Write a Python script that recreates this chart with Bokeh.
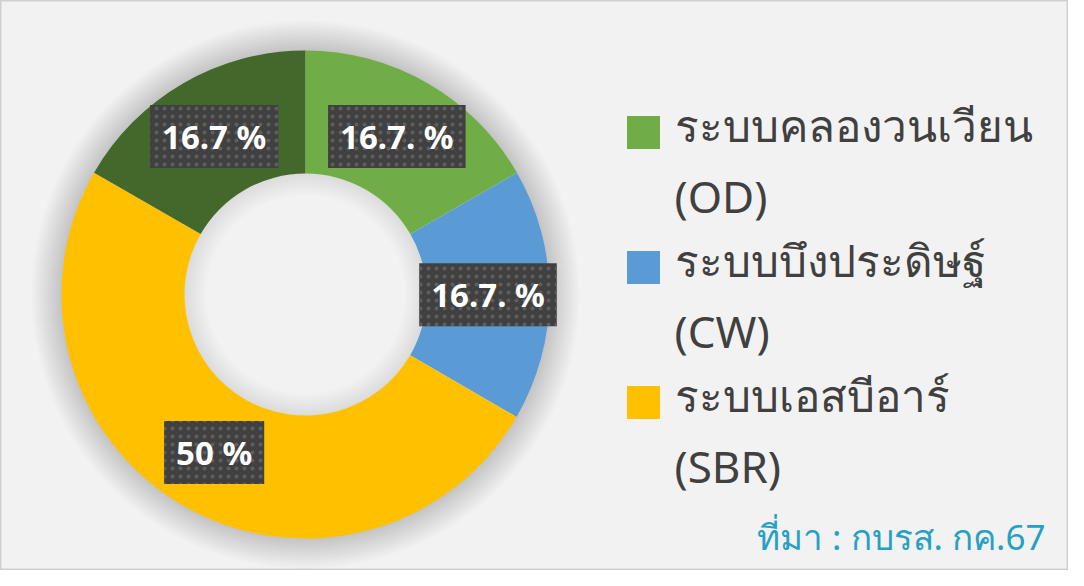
import math
from bokeh.plotting import figure
from bokeh.models import Range1d, Label
from bokeh.core.properties import value
from bokeh.embed import file_html
from bokeh.resources import INLINE

# ---- data ----
categories = ["ระบบคลองวนเวียน (OD)", "ระบบบึงประดิษฐ์ (CW)", "ระบบเอสบีอาร์ (SBR)", "อื่น ๆ"]
shares = [16.7, 16.7, 50.0, 16.7]
label_texts = ["16.7. %", "16.7. %", "50 %", "16.7 %"]
legend_line1 = ["ระบบคลองวนเวียน", "ระบบบึงประดิษฐ์", "ระบบเอสบีอาร์"]
legend_line2 = ["(OD)", "(CW)", "(SBR)"]
source_text = "ที่มา : กบรส. กค.67"

# ---- style / layout ----
colors = ["#70AD47", "#5B9BD5", "#FFC000", "#43682B"]
W, H = 1068, 570
p = figure(width=W, height=H, output_backend="svg", toolbar_location=None,
           x_range=Range1d(8, 8 + W), y_range=Range1d(586 - 8 - H, 586 - 8),
           min_border=0, match_aspect=False)
p.axis.visible = False
p.grid.visible = False
p.background_fill_color = "#F2F2F2"
p.border_fill_color = "#F2F2F2"
p.outline_line_color = "#CFCFCF"
p.outline_line_width = 2

cx, cy = 313, 586 - 302
r_out, r_in = 244, 121

# soft outer shadow
for k in range(1, 16):
    p.annulus(x=cx, y=cy, inner_radius=r_out - 1, outer_radius=r_out + 2 * k,
              fill_color="black", fill_alpha=0.011, line_color=None)
# inner shadow in hole
for k in range(1, 12):
    p.annulus(x=cx, y=cy, inner_radius=r_in - 2 * k, outer_radius=r_in + 1,
              fill_color="black", fill_alpha=0.007, line_color=None)

total = sum(shares)
starts, ends, mids = [], [], []
acc = 0.0
for s in shares:
    a0 = math.pi / 2 - 2 * math.pi * acc / total
    acc += s
    a1 = math.pi / 2 - 2 * math.pi * acc / total
    starts.append(a0)
    ends.append(a1)
    mids.append((a0 + a1) / 2)

p.annular_wedge(x=[cx] * 4, y=[cy] * 4, inner_radius=r_in, outer_radius=r_out,
                start_angle=starts, end_angle=ends, direction="clock",
                fill_color=colors, line_color=None)

# data labels at the middle of each ring segment
r_lab = (r_in + r_out) / 2
pad = dict(left=12, right=12, top=9, bottom=9)
for txt, m in zip(label_texts, mids):
    lx = cx + r_lab * math.cos(m)
    ly = cy + r_lab * math.sin(m)
    for k, al in ((6, 0.06), (4, 0.10), (2, 0.12)):
        shadow = Label(x=lx, y=ly, x_offset=k, y_offset=-k, text=txt,
                       text_font="Noto Sans", text_font_size="33px",
                       text_font_style="bold", text_align="center", text_baseline="middle",
                       text_alpha=0.0, background_fill_color="black",
                       background_fill_alpha=al, padding=pad)
        p.add_layout(shadow)
    lab = Label(x=lx, y=ly, text=txt, text_font="Noto Sans",
                text_font_size="33px", text_font_style="bold", text_color="white",
                text_align="center", text_baseline="middle",
                background_fill_color="#404040", background_fill_alpha=1.0,
                background_hatch_pattern="dot", background_hatch_color="#5E5E5E",
                background_hatch_scale=8, padding=pad)
    p.add_layout(lab)

# legend (manual, first three categories)
fs = 44
shift = 0.45 * fs
leg_x = 651
for i, (l1, l2) in enumerate(zip(legend_line1, legend_line2)):
    sy = 586 - (140 + 135 * i)
    p.rect(x=leg_x, y=sy, width=33, height=33, fill_color=colors[i], line_color=None)
    p.text(x=[682], y=[586 - (152 + 135 * i) + shift], text=[l1], text_font=value("Noto Sans"),
           text_font_size=f"{fs}px", text_color="#404040", text_baseline="alphabetic")
    p.text(x=[682], y=[586 - (223 + 135 * i) + shift], text=[l2], text_font=value("Noto Sans"),
           text_font_size=f"{fs}px", text_color="#404040", text_baseline="alphabetic")

sfs = 35
p.text(x=[1053], y=[586 - 560 + 0.45 * sfs], text=[source_text], text_font=value("Noto Sans"),
       text_font_size=f"{sfs}px", text_color="#26A0C4", text_align="right",
       text_baseline="alphabetic")

open("out.html", "w").write(file_html(p, INLINE))
